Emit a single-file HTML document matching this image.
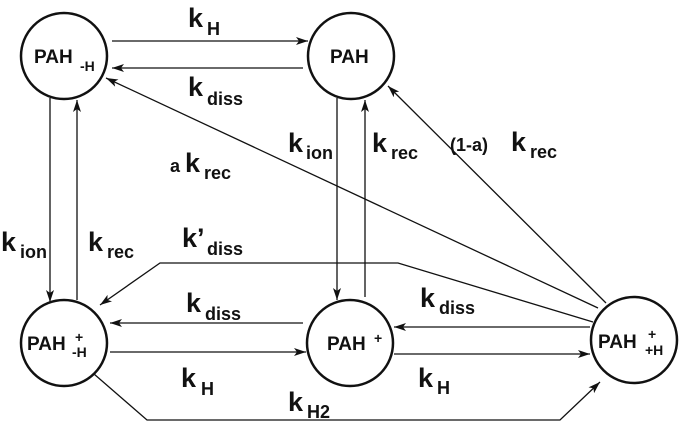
<!DOCTYPE html>
<html><head><style>body{margin:0;background:#fff}svg{display:block}
text{font-family:"Liberation Sans",sans-serif;font-weight:bold;fill:#111}
.k{font-size:27px}.s{font-size:18px}.n{font-size:19px}.m{font-size:14px}.p{font-size:18px}</style></head><body>
<svg width="680" height="422" viewBox="0 0 680 422">
<defs><marker id="a" viewBox="0 0 12 8" refX="12" refY="4" markerWidth="12" markerHeight="8" orient="auto" markerUnits="userSpaceOnUse"><path d="M0,0 L12,4 L0,8 L3,4 Z" fill="#111"/></marker></defs>
<g fill="none" stroke="#111" stroke-width="1.3">
<circle cx="64" cy="56" r="43" stroke-width="2.5"/>
<circle cx="351" cy="56" r="43" stroke-width="2.5"/>
<circle cx="64" cy="343" r="43" stroke-width="2.5"/>
<circle cx="350" cy="343" r="43" stroke-width="2.5"/>
<circle cx="634" cy="340" r="43" stroke-width="2.5"/>
<line x1="112" y1="41" x2="308" y2="41" marker-end="url(#a)"/>
<line x1="303" y1="68" x2="112" y2="68" marker-end="url(#a)"/>
<line x1="50" y1="98" x2="50" y2="302" marker-end="url(#a)"/>
<line x1="77" y1="300" x2="77" y2="100" marker-end="url(#a)"/>
<line x1="337" y1="98" x2="337" y2="300" marker-end="url(#a)"/>
<line x1="365" y1="297" x2="365" y2="100" marker-end="url(#a)"/>
<line x1="598" y1="308" x2="106" y2="78" marker-end="url(#a)"/>
<line x1="606" y1="303" x2="388" y2="86" marker-end="url(#a)"/>
<polyline points="593,322 398,263 160,263 100,305" marker-end="url(#a)"/>
<line x1="303" y1="323" x2="110" y2="323" marker-end="url(#a)"/>
<line x1="110" y1="352" x2="306" y2="352" marker-end="url(#a)"/>
<line x1="590" y1="327" x2="394" y2="327" marker-end="url(#a)"/>
<line x1="394" y1="354" x2="590" y2="354" marker-end="url(#a)"/>
<polyline points="94,374 147,420 560,420 600,382" marker-end="url(#a)"/>
</g>
<text x="34" y="63" class="n">PAH</text><text x="80" y="71" class="m">-H</text>
<text x="330" y="63" class="n">PAH</text>
<text x="27" y="350" class="n">PAH</text><text x="75" y="342" class="m">+</text><text x="72" y="357" class="m">-H</text>
<text x="327" y="350" class="n">PAH</text><text x="374" y="343" class="m">+</text>
<text x="598" y="348" class="n">PAH</text><text x="648" y="339" class="m">+</text><text x="645" y="355" class="m">+H</text>
<text x="188" y="27" class="k">k</text><text x="207" y="35" class="s">H</text>
<text x="188" y="96" class="k">k</text><text x="207" y="105" class="s">diss</text>
<text x="170" y="172" class="p" style="font-size:18px">a</text><text x="185" y="172" class="k">k</text><text x="204" y="179" class="s">rec</text>
<text x="288" y="152" class="k">k</text><text x="306" y="159" class="s">ion</text>
<text x="372" y="152" class="k">k</text><text x="391" y="159" class="s">rec</text>
<text x="450" y="151" class="p" style="font-size:18px">(1-a)</text><text x="511" y="151" class="k">k</text><text x="530" y="158" class="s">rec</text>
<text x="1" y="251" class="k">k</text><text x="20" y="258" class="s">ion</text>
<text x="88" y="251" class="k">k</text><text x="107" y="258" class="s">rec</text>
<text x="182" y="247" class="k">k’</text><text x="207" y="255" class="s">diss</text>
<text x="186" y="312" class="k">k</text><text x="205" y="320" class="s">diss</text>
<text x="420" y="307" class="k">k</text><text x="439" y="314" class="s">diss</text>
<text x="181" y="387" class="k">k</text><text x="201" y="395" class="s">H</text>
<text x="418" y="387" class="k">k</text><text x="437" y="394" class="s">H</text>
<text x="288" y="411" class="k">k</text><text x="307" y="418" class="s">H2</text>
</svg></body></html>
